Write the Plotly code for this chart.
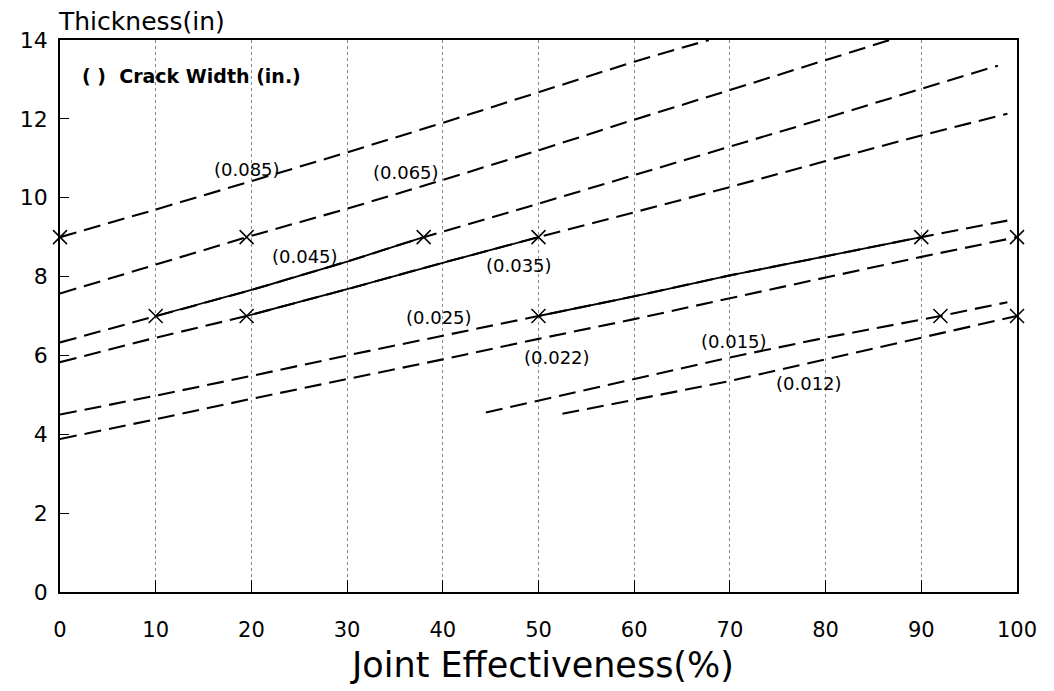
import plotly.graph_objects as go

# ---- data (x = joint effectiveness %, y = thickness in.) ----
W085_X = [0, 10, 20, 30, 40, 50, 60, 67.8]
W085_Y = [9.0, 9.7, 10.42, 11.15, 11.9, 12.68, 13.45, 14.0]

W065_X = [0, 10, 19.5, 30, 40, 50, 60, 70, 80, 86.7]
W065_Y = [7.57, 8.3, 9.0, 9.72, 10.45, 11.2, 11.98, 12.73, 13.5, 14.0]

W045_X = [0, 10, 20, 30, 38, 50, 60, 70, 80, 90, 98]
W045_Y = [6.33, 7.0, 7.66, 8.38, 9.0, 9.85, 10.57, 11.3, 12.02, 12.76, 13.35]

W035_X = [0, 10, 19.5, 30, 40, 50, 60, 70, 80, 90, 99]
W035_Y = [5.83, 6.45, 7.0, 7.68, 8.35, 9.0, 9.63, 10.27, 10.93, 11.58, 12.13]

W025_X = [0, 10, 20, 30, 40, 50, 60, 70, 80, 90, 99]
W025_Y = [4.5, 4.98, 5.48, 6.0, 6.5, 7.0, 7.5, 8.03, 8.52, 9.0, 9.42]

W022_X = [0, 10, 20, 30, 40, 50, 60, 70, 80, 90, 100]
W022_Y = [3.88, 4.38, 4.9, 5.4, 5.9, 6.42, 6.92, 7.45, 7.97, 8.5, 9.0]

W015_X = [44.5, 50, 60, 70, 80, 92, 99]
W015_Y = [4.55, 4.85, 5.4, 5.95, 6.45, 7.0, 7.35]

W012_X = [52.5, 60, 70, 80, 90, 100]
W012_Y = [4.52, 4.88, 5.35, 5.9, 6.45, 7.0]

# crossing points (x markers) at 9 in. and 7 in. thickness
MARK_X = [0, 19.5, 38, 50, 90, 100, 10, 19.5, 50, 92, 100]
MARK_Y = [9, 9, 9, 9, 9, 9, 7, 7, 7, 7, 7]

# crack width labels
LABELS = ["(0.085)", "(0.065)", "(0.045)", "(0.035)", "(0.025)", "(0.022)", "(0.015)", "(0.012)"]
LABEL_X = [19.5, 36.2, 25.6, 48.0, 39.6, 51.9, 70.4, 78.3]
LABEL_Y = [10.72, 10.63, 8.5, 8.27, 6.95, 5.94, 6.36, 5.3]

X_TICKS = [0, 10, 20, 30, 40, 50, 60, 70, 80, 90, 100]
Y_TICKS = [0, 2, 4, 6, 8, 10, 12, 14]

SERIES = [
    (W085_X, W085_Y, None),
    (W065_X, W065_Y, None),
    (W045_X, W045_Y, (1, 4)),
    (W035_X, W035_Y, (2, 5)),
    (W025_X, W025_Y, (5, 9)),
    (W022_X, W022_Y, None),
    (W015_X, W015_Y, None),
    (W012_X, W012_Y, None),
]

FONT = "DejaVu Sans"
fig = go.Figure()

for xs, ys, solid in SERIES:
    fig.add_trace(go.Scatter(x=xs, y=ys, mode="lines",
                             line=dict(color="black", width=2.1, dash="17px,8px"),
                             showlegend=False, hoverinfo="skip"))
    if solid:
        a, b = solid
        fig.add_trace(go.Scatter(x=xs[a:b + 1], y=ys[a:b + 1], mode="lines",
                                 line=dict(color="black", width=1.8),
                                 showlegend=False, hoverinfo="skip"))

fig.add_trace(go.Scatter(x=MARK_X, y=MARK_Y, mode="markers",
                         marker=dict(symbol="x-thin", size=14, color="black",
                                     line=dict(width=1.5, color="black")),
                         showlegend=False, cliponaxis=False, hoverinfo="skip"))

for t, lx, ly in zip(LABELS, LABEL_X, LABEL_Y):
    fig.add_annotation(x=lx, y=ly, text=t, showarrow=False,
                       font=dict(family=FONT, size=18, color="black"))

fig.add_annotation(x=13.7, y=13.08, text="( )  Crack Width (in.)", showarrow=False,
                   font=dict(family=FONT, size=19, color="black", weight="bold"))

fig.add_annotation(xref="paper", yref="paper", x=-0.004, y=1.033, xanchor="left",
                   yanchor="middle", text="Thickness(in)", showarrow=False,
                   font=dict(family=FONT, size=25, color="black"))

fig.add_annotation(xref="paper", yref="paper", x=0.504, y=-0.132, xanchor="center",
                   yanchor="middle", text="Joint Effectiveness(%)", showarrow=False,
                   font=dict(family=FONT, size=35, color="black"))

fig.update_xaxes(range=[0, 100], tickvals=X_TICKS, ticktext=[str(v) for v in X_TICKS],
                 ticks="inside", ticklen=12, tickwidth=1.2, tickcolor="black",
                 showline=True, linecolor="black", linewidth=1.6, mirror=True,
                 showgrid=True, gridcolor="#888", griddash="dot", gridwidth=1,
                 zeroline=False, ticklabelstandoff=18,
                 tickfont=dict(family=FONT, size=21, color="black"))
fig.update_yaxes(range=[0, 14], tickvals=Y_TICKS, ticktext=[str(v) for v in Y_TICKS],
                 ticks="inside", ticklen=9, tickwidth=1.2, tickcolor="black",
                 showline=True, linecolor="black", linewidth=1.6, mirror=True,
                 showgrid=False, zeroline=False, ticklabelstandoff=6,
                 tickfont=dict(family=FONT, size=22, color="black"))

fig.update_layout(width=1046, height=683, plot_bgcolor="white", paper_bgcolor="white",
                  margin=dict(l=47, r=37, t=32, b=99), showlegend=False)

fig.write_html("out.html")
